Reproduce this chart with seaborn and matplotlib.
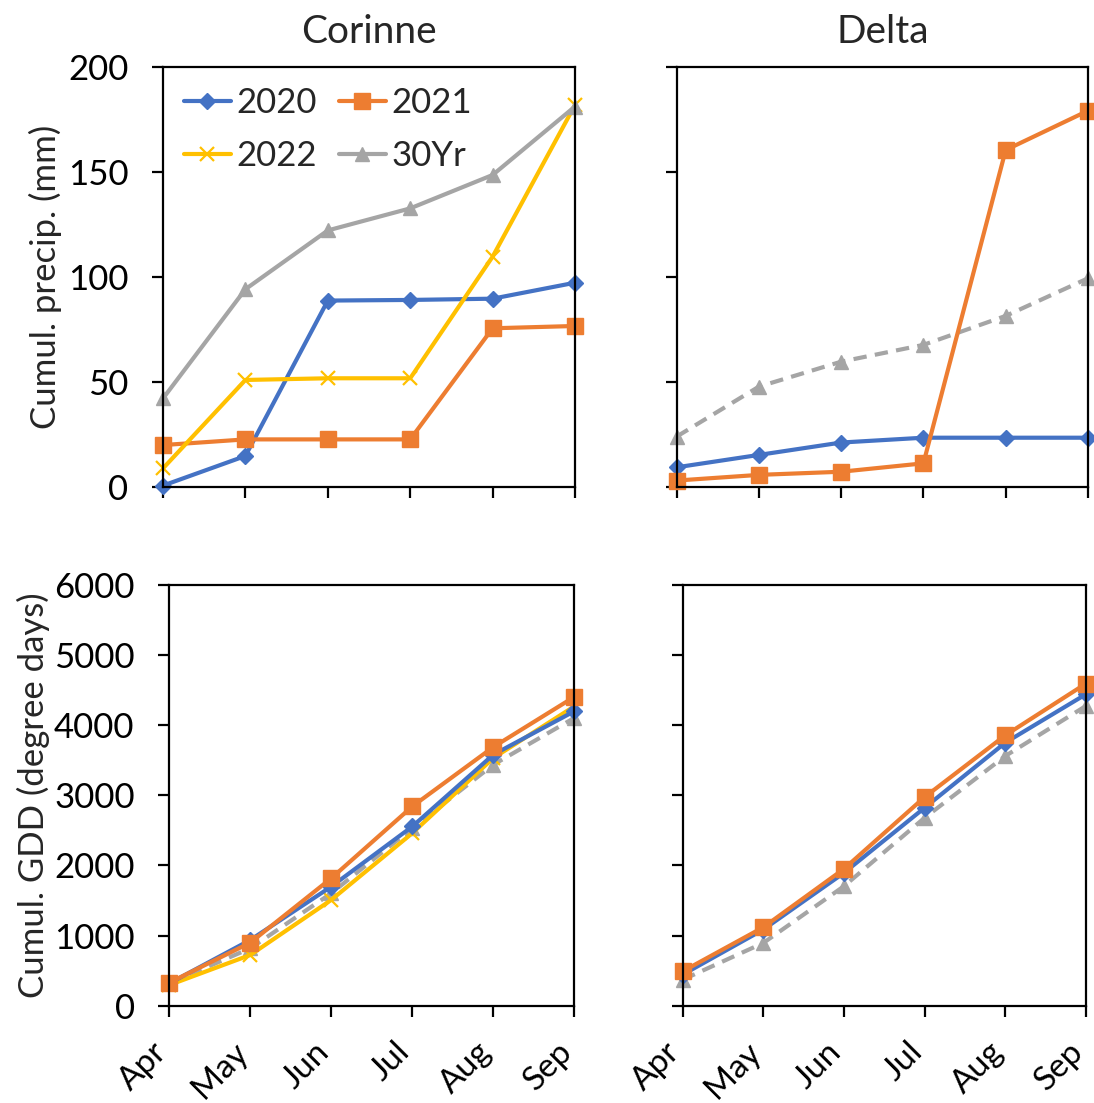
import numpy as np
import pandas as pd
import matplotlib
matplotlib.use("Agg")
import matplotlib.pyplot as plt
import matplotlib.transforms as mtransforms
import seaborn as sns

sns.set_style("white")
plt.rcParams['font.family'] = ['Lato', 'DejaVu Sans']

months = ["Apr", "May", "Jun", "Jul", "Aug", "Sep"]

# cumulative precipitation (mm)
corinne_precip_2020 = [0.5, 14.6, 88.6, 88.9, 89.5, 97.1]
corinne_precip_2021 = [19.8, 22.5, 22.5, 22.5, 75.4, 76.5]
corinne_precip_2022 = [8.7, 50.8, 51.6, 51.6, 109.5, 181.7]
corinne_precip_30yr = [42, 94, 122, 132.5, 148.4, 181]

delta_precip_2020 = [9.2, 15.1, 21.0, 23.3, 23.3, 23.3]
delta_precip_2021 = [2.9, 5.6, 7.1, 11.1, 160.3, 179]
delta_precip_30yr = [23.8, 47.6, 59.5, 67.5, 81.3, 99.2]

# cumulative GDD (degree days)
corinne_gdd_2020 = [319, 938, 1700, 2557, 3581, 4200]
corinne_gdd_2021 = [329, 900, 1819, 2843, 3690, 4405]
corinne_gdd_2022 = [295, 724, 1510, 2462, 3533, 4271]
corinne_gdd_30yr = [319, 819, 1605, 2533, 3438, 4105]

delta_gdd_2020 = [443, 1086, 1895, 2824, 3752, 4443]
delta_gdd_2021 = [490, 1119, 1952, 2976, 3857, 4595]
delta_gdd_30yr = [371, 895, 1705, 2681, 3562, 4276]

STYLE = {
    "2020": dict(color="#4472C4", marker="D", markersize=8),
    "2021": dict(color="#ED7D31", marker="s", markersize=11.5),
    "2022": dict(color="#FFC000", marker="x", markersize=10, markeredgewidth=1.6),
    "30Yr": dict(color="#A5A5A5", marker="^", markersize=10.5),
}

FS = 25

fig = plt.figure(figsize=(10.94, 11.03), dpi=100)
ax_tl = fig.add_axes([0.149, 0.5588, 0.3766, 0.3808])
ax_tr = fig.add_axes([0.6184, 0.5588, 0.3761, 0.3808])
ax_bl = fig.add_axes([0.1548, 0.0882, 0.3702, 0.3814])
ax_br = fig.add_axes([0.624, 0.0882, 0.3687, 0.3814])

x = np.arange(len(months))


def draw(ax, series, dashed_30yr=True):
    for name, vals in series:
        st = STYLE[name]
        ls = "--" if (name == "30Yr" and dashed_30yr) else "-"
        sns.lineplot(x=x, y=vals, ax=ax, color=st["color"], linewidth=3.0,
                     linestyle=ls, label=name, legend=False, clip_on=False)
        line = ax.lines[-1]
        line.set_marker(st["marker"])
        line.set_markersize(st["markersize"])
        line.set_markerfacecolor(st["color"])
        line.set_markeredgecolor(st["color"])
        line.set_markeredgewidth(st.get("markeredgewidth", 1))
        if ls == "--":
            line.set_dashes([3.2, 2.0])


draw(ax_tl, [("2020", corinne_precip_2020), ("2021", corinne_precip_2021),
             ("2022", corinne_precip_2022), ("30Yr", corinne_precip_30yr)],
     dashed_30yr=False)
draw(ax_tr, [("30Yr", delta_precip_30yr), ("2020", delta_precip_2020),
             ("2021", delta_precip_2021)])
draw(ax_bl, [("30Yr", corinne_gdd_30yr), ("2022", corinne_gdd_2022),
             ("2020", corinne_gdd_2020), ("2021", corinne_gdd_2021)])
draw(ax_br, [("30Yr", delta_gdd_30yr), ("2020", delta_gdd_2020),
             ("2021", delta_gdd_2021)])

for ax in [ax_tl, ax_tr, ax_bl, ax_br]:
    ax.set_xlim(0, 5)
    ax.set_xticks(x)
    for s in ax.spines.values():
        s.set_linewidth(1.6)
        s.set_color("black")
    ax.tick_params(direction="out", length=8, width=1.6, labelsize=FS,
                   colors="black", bottom=True, left=True)
    ax.tick_params(axis="y", pad=17)
    ax.set_xlabel("")
    ax.set_ylabel("")

for ax in [ax_tl, ax_tr]:
    ax.set_ylim(0, 200)
    ax.set_yticks([0, 50, 100, 150, 200])
    ax.set_xticklabels([])

shift = mtransforms.ScaledTranslation(-7 / 100, 0, fig.dpi_scale_trans)
for ax in [ax_bl, ax_br]:
    ax.set_ylim(0, 6000)
    ax.set_yticks(range(0, 6001, 1000))
    ax.set_xticklabels(months, rotation=45, ha="right", va="center",
                       rotation_mode="anchor")
    ax.tick_params(axis="x", pad=22, labelsize=24)
    for lab in ax.get_xticklabels():
        lab.set_transform(lab.get_transform() + shift)
for ax in [ax_tr, ax_br]:
    ax.set_yticklabels([])

ax_tl.set_ylabel("Cumul. precip. (mm)", fontsize=FS, labelpad=4)
ax_bl.set_ylabel("Cumul. GDD (degree days)", fontsize=FS, labelpad=3)
ax_tl.set_title("Corinne", fontsize=28, pad=17)
ax_tr.set_title("Delta", fontsize=28, pad=17)

handles = {l.get_label(): l for l in ax_tl.lines}
order = ["2020", "2022", "2021", "30Yr"]
ax_tl.legend([handles[k] for k in order], order, ncol=2, frameon=False,
             fontsize=FS, loc="upper left", bbox_to_anchor=(0.0, 1.0),
             handlelength=1.35, handletextpad=0.15, columnspacing=0.65,
             labelspacing=0.6, borderaxespad=0.3, borderpad=0.3)

fig.savefig("out.png", dpi=100)
